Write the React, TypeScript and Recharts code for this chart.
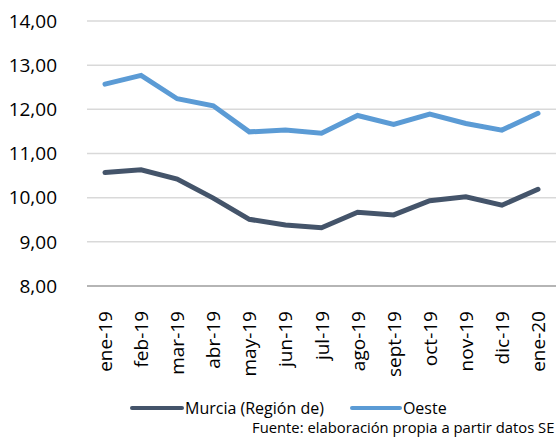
import { LineChart, Line, XAxis, YAxis, CartesianGrid, Legend } from "recharts";

const months = [
  "ene-19", "feb-19", "mar-19", "abr-19", "may-19", "jun-19", "jul-19",
  "ago-19", "sept-19", "oct-19", "nov-19", "dic-19", "ene-20",
];
const murcia = [10.57, 10.63, 10.42, 9.99, 9.51, 9.38, 9.32, 9.67, 9.61, 9.93, 10.02, 9.83, 10.19];
const oeste = [12.57, 12.77, 12.24, 12.08, 11.49, 11.53, 11.46, 11.86, 11.66, 11.89, 11.68, 11.53, 11.91];
const yTicks = [8, 9, 10, 11, 12, 13, 14];

const data = months.map((m, i) => ({ month: m, murcia: murcia[i], oeste: oeste[i] }));

const FONT = "'Open Sans', sans-serif";

const XTick = (props: any) => {
  const { x, y, payload } = props;
  return (
    <text
      x={x}
      y={y}
      transform={`rotate(-90, ${x}, ${y})`}
      textAnchor="end"
      dominantBaseline="central"
      fontSize={19}
      fontFamily={FONT}
      fill="#000"
      dx={-17}
    >
      {payload.value}
    </text>
  );
};

const LegendContent = () => (
  <div style={{ fontFamily: FONT, height: 46, position: "relative" }}>
    <div style={{ position: "absolute", left: 130, top: 11, display: "flex", alignItems: "center", fontSize: 16 }}>
      <span style={{ display: "inline-block", width: 54, height: 4, background: "#44546A", borderRadius: 2 }} />
      <span style={{ marginLeft: 1 }}>Murcia (Región de)</span>
      <span style={{ display: "inline-block", width: 52, height: 4, background: "#5B9BD5", borderRadius: 2, marginLeft: 26 }} />
      <span style={{ marginLeft: 1 }}>Oeste</span>
    </div>
    <div style={{ position: "absolute", left: 252, top: 31, fontSize: 14.8, whiteSpace: "nowrap" }}>
      Fuente: elaboración propia a partir datos SE
    </div>
  </div>
);

export default function App() {
  return (
    <div style={{ position: "absolute", left: 0, top: 0, width: 556, height: 437, overflow: "hidden", background: "#fff" }}>
      <LineChart width={556} height={437} data={data} margin={{ top: 21, right: 0, left: 7, bottom: 5 }}>
        <CartesianGrid vertical={false} stroke="#d9d9d9" strokeWidth={1.5} />
        <XAxis
          dataKey="month"
          height={100}
          interval={0}
          padding={{ left: 18, right: 18 }}
          tickLine={false}
          axisLine={{ stroke: "#a6a6a6", strokeWidth: 1.5 }}
          tick={<XTick />}
        />
        <YAxis
          domain={[8, 14]}
          ticks={yTicks}
          width={80}
          axisLine={false}
          tickLine={false}
          tickFormatter={(v: number) => v.toFixed(2).replace(".", ",")}
          tick={{ fontSize: 19, fontFamily: FONT, fill: "#000" }}
          tickMargin={24}
        />
        <Legend verticalAlign="bottom" content={<LegendContent />} wrapperStyle={{ left: 0, width: 556 }} />
        <Line dataKey="murcia" name="Murcia (Región de)" stroke="#44546A" strokeWidth={5} dot={false} strokeLinecap="round" isAnimationActive={false} />
        <Line dataKey="oeste" name="Oeste" stroke="#5B9BD5" strokeWidth={5} dot={false} strokeLinecap="round" isAnimationActive={false} />
      </LineChart>
    </div>
  );
}
